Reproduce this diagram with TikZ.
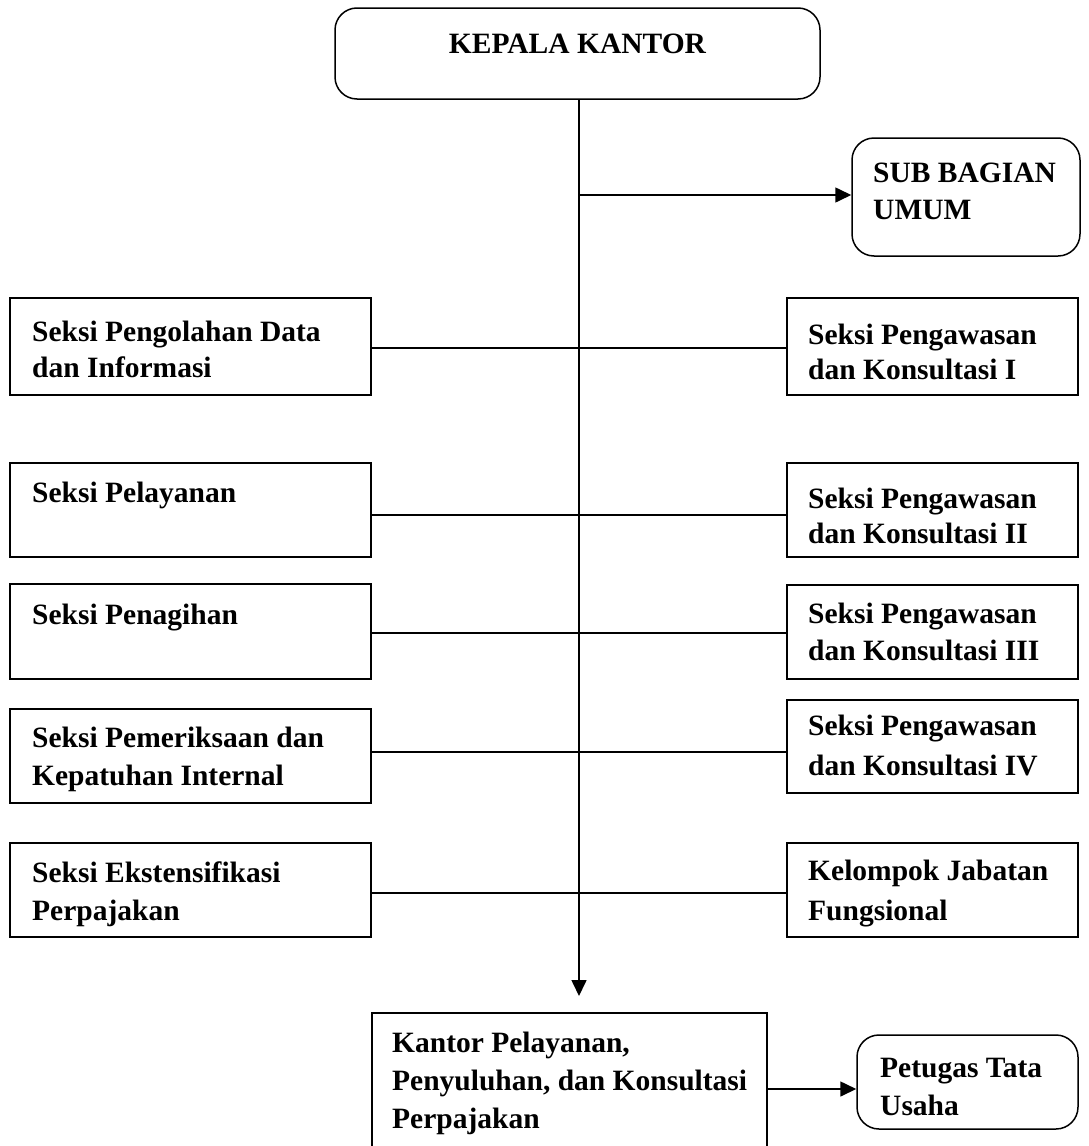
\documentclass[tikz,border=0pt]{standalone}
\usepackage{fontspec}
\setmainfont{Liberation Serif}
\usetikzlibrary{arrows.meta}
\tikzset{
  box/.style={draw, line width=1.5pt, inner sep=0pt},
  rbox/.style={box, rounded corners=22pt},
  txt/.style={anchor=base west, inner sep=0pt, font=\fontsize{29.5}{35}\selectfont\bfseries},
  conn/.style={line width=1.6pt},
  arr/.style={conn, -{Triangle[length=16pt,width=15pt]}},
}
\begin{document}
\begin{tikzpicture}[x=1pt,y=-1pt]
\useasboundingbox (0,0) rectangle (1089,1146);
% boxes
\node[rbox, minimum width=485pt, minimum height=91pt] (kep) at (577.5,53.5) {};
\node[rbox, minimum width=228pt, minimum height=118pt] (sub) at (966,197) {};
\node[box, minimum width=361pt, minimum height=97pt] (l1) at (190.5,346.5) {};
\node[box, minimum width=361pt, minimum height=94pt] (l2) at (190.5,510) {};
\node[box, minimum width=361pt, minimum height=95pt] (l3) at (190.5,631.5) {};
\node[box, minimum width=361pt, minimum height=94pt] (l4) at (190.5,756) {};
\node[box, minimum width=361pt, minimum height=94pt] (l5) at (190.5,890) {};
\node[box, minimum width=291pt, minimum height=97pt] (r1) at (932.5,346.5) {};
\node[box, minimum width=291pt, minimum height=94pt] (r2) at (932.5,510) {};
\node[box, minimum width=291pt, minimum height=94pt] (r3) at (932.5,632) {};
\node[box, minimum width=291pt, minimum height=93pt] (r4) at (932.5,746.5) {};
\node[box, minimum width=291pt, minimum height=94pt] (r5) at (932.5,890) {};
\node[box, minimum width=395pt, minimum height=167pt] (kpp) at (569.5,1096.5) {};
\node[rbox, minimum width=221pt, minimum height=94pt] (ptg) at (967.5,1082) {};
% texts
\node[txt, anchor=base] (tkep) at (577.5,53) {KEPALA KANTOR};
\node[txt] (ts1) at (873,182) {SUB BAGIAN};
\node[txt] (ts2) at (873,219) {UMUM};
\node[txt] (tl1a) at (32,341) {Seksi Pengolahan Data};
\node[txt] (tl1b) at (32,377) {dan Informasi};
\node[txt] (tl2a) at (32,502) {Seksi Pelayanan};
\node[txt] (tl3a) at (32,624) {Seksi Penagihan};
\node[txt] (tl4a) at (32,747) {Seksi Pemeriksaan dan};
\node[txt] (tl4b) at (32,785) {Kepatuhan Internal};
\node[txt] (tl5a) at (32,882) {Seksi Ekstensifikasi};
\node[txt] (tl5b) at (32,920) {Perpajakan};
\node[txt] (tr1a) at (808,344) {Seksi Pengawasan};
\node[txt] (tr1b) at (808,379) {dan Konsultasi I};
\node[txt] (tr2a) at (808,508) {Seksi Pengawasan};
\node[txt] (tr2b) at (808,543) {dan Konsultasi II};
\node[txt] (tr3a) at (808,623) {Seksi Pengawasan};
\node[txt] (tr3b) at (808,660) {dan Konsultasi III};
\node[txt] (tr4a) at (808,735) {Seksi Pengawasan};
\node[txt] (tr4b) at (808,775) {dan Konsultasi IV};
\node[txt] (tr5a) at (808,880) {Kelompok Jabatan};
\node[txt] (tr5b) at (808,920) {Fungsional};
\node[txt] (tk1) at (392,1052) {Kantor Pelayanan,};
\node[txt] (tk2) at (392,1090) {Penyuluhan, dan Konsultasi};
\node[txt] (tk3) at (392,1128) {Perpajakan};
\node[txt] (tp1) at (880,1077) {Petugas Tata};
\node[txt] (tp2) at (880,1115) {Usaha};
% helper coordinates
\coordinate (top) at (579,99);
\coordinate (tip) at (579,996);
\coordinate (a1) at (579,195);
\coordinate (a2) at (767,1089);
\coordinate (h1) at (0,348);
\coordinate (h2) at (0,515);
\coordinate (h3) at (0,633);
\coordinate (h4) at (0,752);
\coordinate (h5) at (0,893);
% connectors
\draw[arr] (kep.south -| top) -- (tip);
\draw[arr] (a1) -- (sub.west |- a1);
\draw[conn] (l1.east |- h1) -- (r1.west |- h1);
\draw[conn] (l2.east |- h2) -- (r2.west |- h2);
\draw[conn] (l3.east |- h3) -- (r3.west |- h3);
\draw[conn] (l4.east |- h4) -- (r4.west |- h4);
\draw[conn] (l5.east |- h5) -- (r5.west |- h5);
\draw[arr] (kpp.east |- a2) -- (ptg.west |- a2);
\end{tikzpicture}
\end{document}
